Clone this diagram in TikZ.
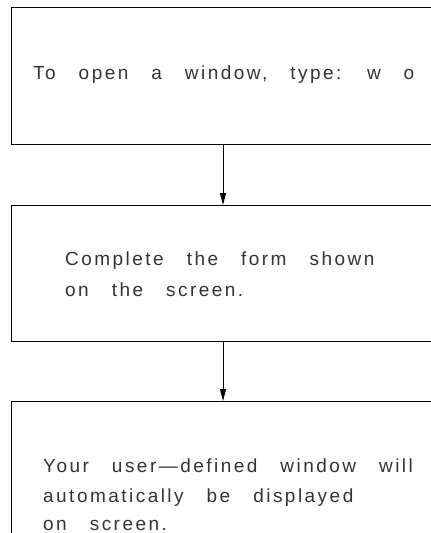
\documentclass[tikz,border=0pt]{standalone}
\usepackage{fontspec}
\usetikzlibrary{arrows.meta}
\newfontfamily\cadfont[LetterSpace=13]{Liberation Sans}
\newcommand\cadsetup{\cadfont\fontsize{19}{19}\selectfont\spaceskip=23pt plus 0pt minus 0pt\relax}
\begin{document}
\begin{tikzpicture}[x=1pt,y=-1pt,
  boxstyle/.style={draw=black,line width=1pt,rectangle,inner sep=0pt,anchor=north west},
  txt/.style={anchor=base west,inner sep=0pt,execute at begin node=\cadsetup,text=black!80},
  flow/.style={draw=black,line width=1pt,-{Triangle[length=12pt,width=6pt]}}]
\useasboundingbox (0,0) rectangle (431,533);
\clip (0,0) rectangle (431,533);
\node[boxstyle,minimum width=440pt,minimum height=137pt] (b1) at (11,7) {};
\node[boxstyle,minimum width=440pt,minimum height=136pt] (b2) at (11,205) {};
\node[boxstyle,minimum width=440pt,minimum height=200pt] (b3) at (11,401) {};
\coordinate (ax) at (223,0);
\draw[flow] (b1.south -| ax) -- (b2.north -| ax);
\draw[flow] (b2.south -| ax) -- (b3.north -| ax);
\node[txt] (t1) at (33,79) {To open a window, type: w o};
\node[txt] (t2) at (65,265) {Complete the form shown};
\node[txt] (t3) at (65,296) {on the screen.};
\node[txt] (t4) at (43,472) {Your user—defined window will};
\node[txt] (t5) at (43,502) {automatically be displayed};
\node[txt] (t6) at (43,530) {on screen.};
\end{tikzpicture}
\end{document}
